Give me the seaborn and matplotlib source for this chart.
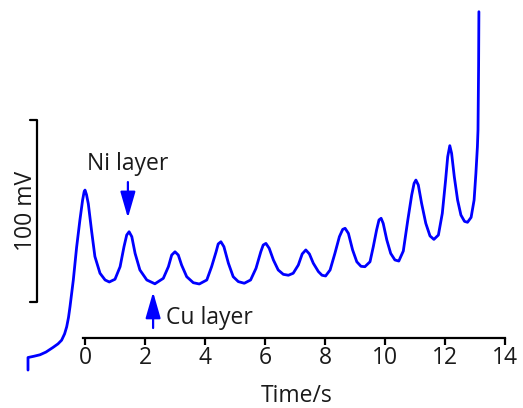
import matplotlib
matplotlib.use("Agg")
import matplotlib.pyplot as plt
import seaborn as sns
import pandas as pd

# Time (s) and potential (mV)
time_s = [-1.90, -1.90, -1.70, -1.50, -1.30, -1.07, -0.90, -0.78, -0.68, -0.61, -0.55, -0.50,
          -0.39, -0.28, -0.17, -0.08, -0.03, 0.00, 0.05, 0.11, 0.22, 0.33, 0.50, 0.67,
          0.81, 1.00, 1.17, 1.30, 1.39, 1.47, 1.56, 1.67, 1.83, 2.06,
          2.33, 2.61, 2.78, 2.89, 3.00, 3.11, 3.22, 3.39, 3.61,
          3.81, 4.06, 4.22, 4.37, 4.44, 4.53, 4.63, 4.78, 4.94, 5.11,
          5.31, 5.52, 5.70, 5.86, 5.94, 6.03, 6.14, 6.28, 6.44, 6.61,
          6.78, 6.94, 7.11, 7.24, 7.36, 7.48, 7.61, 7.78, 7.90,
          8.02, 8.17, 8.33, 8.48, 8.59, 8.67, 8.78, 8.92, 9.06, 9.20,
          9.33, 9.50, 9.61, 9.72, 9.80, 9.87, 9.94, 10.06, 10.19, 10.33,
          10.46, 10.61, 10.76, 10.89, 10.97, 11.03, 11.11, 11.22, 11.36, 11.50,
          11.63, 11.78, 11.91, 12.02, 12.09, 12.16, 12.22, 12.31, 12.42, 12.53, 12.65,
          12.75, 12.87, 12.97, 13.03, 13.08, 13.10, 13.12, 13.13]
potential_mV = [-37.4, -30.5, -29.8, -29.0, -27.5, -25.0, -23.0, -21.0, -17.5, -13.6, -8.5, -2.6,
                12.0, 30.0, 45.0, 56.0, 60.5, 61.5, 59.0, 54.0, 39.0, 25.0, 15.8, 12.1,
                11.0, 12.5, 19.4, 30.4, 36.8, 38.6, 35.9, 26.7, 17.6, 12.1,
                10.0, 13.0, 19.4, 25.8, 27.6, 25.8, 20.3, 13.9, 10.6,
                9.9, 12.1, 19.4, 27.6, 31.9, 33.1, 30.4, 21.3, 13.9, 11.2,
                10.3, 12.1, 18.5, 27.6, 31.3, 32.2, 29.5, 23.1, 17.6, 15.2,
                14.7, 15.8, 20.3, 26.4, 28.6, 26.4, 21.3, 16.7, 14.7,
                14.3, 17.6, 26.7, 35.9, 39.9, 40.5, 37.7, 28.6, 22.1, 19.6,
                19.4, 22.1, 30.4, 39.6, 45.1, 46.0, 43.2, 34.1, 26.7, 23.1,
                22.5, 28.0, 45.0, 58.8, 65.2, 67.0, 64.3, 54.2, 43.2, 36.3,
                34.4, 36.8, 48.7, 67.0, 79.8, 85.9, 81.7, 68.8, 56.0, 47.8, 44.3,
                43.8, 46.5, 56.0, 70.7, 85.3, 94.5, 130.0, 159.5]

x_ticks = [0, 2, 4, 6, 8, 10, 12, 14]
scale_bar_mV = [0, 100]
labels = ["Ni layer", "Cu layer"]

df = pd.DataFrame({"t": time_s, "V": potential_mV})

sns.set_style("white")
plt.rcParams["font.family"] = ["Open Sans", "DejaVu Sans"]

FS = 16.5
TXT = "#1a1a1a"
fig = plt.figure(figsize=(5.23, 4.08), dpi=100)
ax = fig.add_axes([0, 0, 1, 1])
sns.lineplot(data=df, x="t", y="V", sort=False, estimator=None,
             color="#0000ff", lw=2.0, ax=ax)
for ln in ax.get_lines():
    ln.set_solid_joinstyle("round")

ax.set_xlim(-85 / 30, (523 - 85) / 30)
ax.set_ylim((302 - 408) / 1.82, 302 / 1.82)

for s in ["left", "right", "top"]:
    ax.spines[s].set_visible(False)
ax.spines["bottom"].set_position(("data", (302 - 338) / 1.82))
ax.spines["bottom"].set_bounds(-0.07, 14)
ax.spines["bottom"].set_linewidth(1.6)
ax.spines["bottom"].set_color("black")
ax.set_xticks(x_ticks)
ax.set_xticklabels([str(v) for v in x_ticks])
ax.tick_params(axis="x", direction="out", length=5, width=1.6, labelsize=FS,
               bottom=True, pad=0.5, colors="black")
for lab in ax.get_xticklabels():
    lab.set_color(TXT)
ax.set_yticks([])
ax.set_xlabel("")
ax.set_ylabel("")
fig.text(297 / 523, 1 - 396 / 408, "Time/s", ha="center", va="center",
         fontsize=FS, color=TXT)

# scale bar
xb = -1.6
ax.plot([xb, xb], scale_bar_mV, color="black", lw=1.6, solid_capstyle="butt")
ax.plot([xb - 0.22, xb], [scale_bar_mV[0]] * 2, color="black", lw=1.6)
ax.plot([xb - 0.22, xb], [scale_bar_mV[1]] * 2, color="black", lw=1.6)
ax.text(-1.98, 50, "100 mV", rotation=90, ha="center", va="center",
        fontsize=FS, color=TXT)

# annotations
ax.text(1.43, 75.8, labels[0], ha="center", va="center", fontsize=FS, color=TXT)
ax.annotate("", xy=(1.43, 46.2), xytext=(1.43, 65.9),
            arrowprops=dict(arrowstyle="-|>,head_length=0.8,head_width=0.23",
                            mutation_scale=20, color="#0000ff", lw=1.6,
                            shrinkA=0, shrinkB=0))
ax.text(4.15, -9.0, labels[1], ha="center", va="center", fontsize=FS, color=TXT)
ax.annotate("", xy=(2.27, 5.5), xytext=(2.27, -14.3),
            arrowprops=dict(arrowstyle="-|>,head_length=0.8,head_width=0.23",
                            mutation_scale=20, color="#0000ff", lw=1.6,
                            shrinkA=0, shrinkB=0))

fig.savefig("out.png", dpi=100)
